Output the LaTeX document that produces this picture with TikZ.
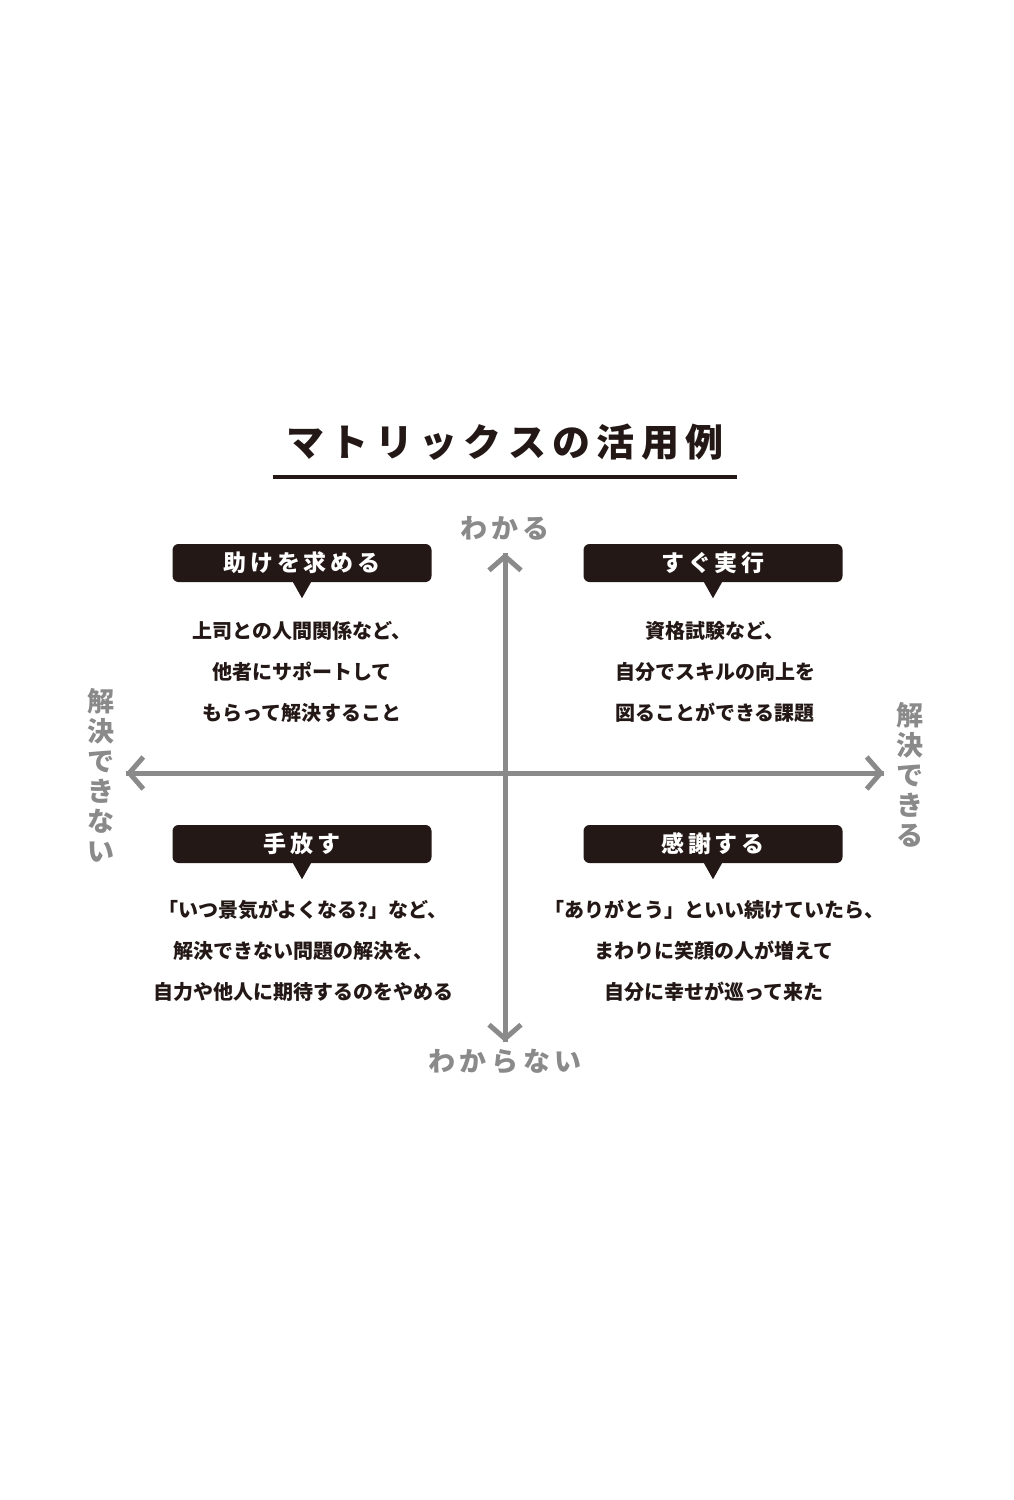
\documentclass[tikz,border=0pt]{standalone}
\usepackage{fontspec}
\setmainfont{Noto Sans CJK JP}
\usetikzlibrary{positioning, arrows.meta}
\definecolor{boxdark}{HTML}{231815}
\definecolor{axisgray}{HTML}{8A8A8A}
\tikzset{
  axis/.style={draw=axisgray, line width=5pt, -{Straight Barb[length=14pt, width=32pt, line width=5pt]}},
  axislabel/.style={text=axisgray, font=\fontsize{27}{30}\selectfont\bfseries},
  tagbox/.style={fill=boxdark, rounded corners=6pt, minimum width=259pt, minimum height=38pt, text=white, font=\fontsize{23}{26}\selectfont\bfseries},
  bodytext/.style={align=center, font=\fontsize{20}{41}\selectfont\bfseries, text=boxdark}
}
\newcommand{\tagpointer}[1]{\fill[boxdark] ([xshift=-9pt]#1.south) -- ([xshift=9pt]#1.south) -- ([yshift=-16pt]#1.south) -- cycle;}
\begin{document}
\begin{tikzpicture}[x=1pt, y=-1pt]
  \useasboundingbox (0,0) rectangle (1013,1500);
  % Title
  \node[font=\fontsize{38}{40}\selectfont\bfseries, text=boxdark] (title) at (505,442) {マ\,ト\,リ\,ッ\,ク\,ス\,の\,活\,用\,例};
  \draw[boxdark, line width=4pt] (273,477) -- (737,477);
  % Axes
  \coordinate (top) at (505,553);
  \coordinate (bottom) at (505,1042);
  \coordinate (left) at (126,773);
  \coordinate (right) at (884,773);
  \draw[axis] (bottom) -- (top);
  \draw[axis] (top) -- (bottom);
  \draw[axis] (right) -- (left);
  \draw[axis] (left) -- (right);
  % Axis labels
  \node[axislabel] (know) at (505,528) {わ\,か\,る};
  \node[axislabel] (dontknow) at (505,1062) {わ\,か\,ら\,な\,い};
  \node[axislabel, align=center, font=\fontsize{27}{30}\selectfont\bfseries] (cannot) at (101,775) {解\\決\\で\\き\\な\\い};
  \node[axislabel, align=center, font=\fontsize{27}{30}\selectfont\bfseries] (can) at (910,775) {解\\決\\で\\き\\る};
  % Tags
  \node[tagbox] (tl) at (302,563) {助\,け\,を\,求\,め\,る};
  \node[tagbox] (tr) at (713,563) {す\,ぐ\,実\,行};
  \node[tagbox] (bl) at (302,844) {手\,放\,す};
  \node[tagbox] (br) at (713,844) {感\,謝\,す\,る};
  \tagpointer{tl}
  \tagpointer{tr}
  \tagpointer{bl}
  \tagpointer{br}
  % Texts
  \node[bodytext] (tltext) at (302,672) {上司との人間関係など、\\他者にサポートして\\もらって解決すること};
  \node[bodytext] (trtext) at (715,672) {資格試験など、\\自分でスキルの向上を\\図ることができる課題};
  \node[bodytext] (bltext) at (303,951) {「いつ景気がよくなる?」など、\\解決できない問題の解決を、\\自力や他人に期待するのをやめる};
  \node[bodytext] (brtext) at (714,951) {「ありがとう」といい続けていたら、\\まわりに笑顔の人が増えて\\自分に幸せが巡って来た};
\end{tikzpicture}
\end{document}
